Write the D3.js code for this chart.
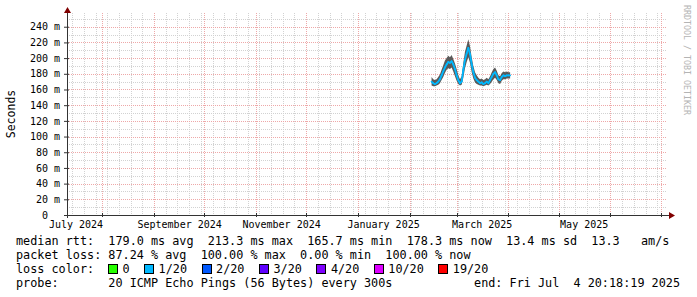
<!DOCTYPE html>
<html>
<head>
<meta charset="utf-8">
<script src="https://cdn.jsdelivr.net/npm/d3@7"></script>
<style>
  html, body { margin: 0; padding: 0; background: #fff; }
  svg { display: block; }
  text { font-family: "DejaVu Sans Mono", monospace; white-space: pre; }
</style>
</head>
<body>
<div id="chart"></div>
<script>
// ── Data ───────────────────────────────────────────────────────────────

const rangeStart = new Date(2024, 6, 10, 22, 0, 0);
const rangeEnd   = new Date(2025, 6, 4, 20, 18, 19);

// one value per day, starting at dataStart
const dataStart = new Date(2025, 1, 14);
const medianRtt = [170,168,167,168,170,173,178,183,188,192,195,194,196,192,186,178,172,168,170,185,
                   198,206,213,205,192,182,175,172,170,168,169,167,168,170,168,172,176,180,182,178,
                   173,172,176,178,177,178,178,178];
const smokeLo   = [165,164,164,165,166,168,172,176,181,185,187,186,188,183,177,171,167,165,166,175,
                   187,195,201,194,182,174,169,167,166,165,165,164,165,166,165,167,170,173,175,172,
                   168,167,171,173,173,174,174,174];
const smokeHi   = [176,173,172,173,176,179,185,191,197,200,203,201,204,199,193,186,178,173,177,194,
                   208,216,224,215,201,190,182,178,175,173,174,172,173,175,173,177,182,186,188,184,
                   178,177,181,183,182,183,182,182];
const lostPings = [1,1,1,1,1,1,1,1,1,1,1,1,1,1,1,1,1,1,1,1,
                   1,1,1,1,1,1,1,1,1,1,1,1,1,1,1,1,1,1,1,1,
                   1,1,1,1,1,1,1,1];

const yTicks = [0, 20, 40, 60, 80, 100, 120, 140, 160, 180, 200, 220, 240];

const lossLevels = [0, 1, 2, 3, 4, 10, 19];
const lossLabels = ["0", "1/20", "2/20", "3/20", "4/20", "10/20", "19/20"];
const lossColors = ["#26ff00", "#00b8ff", "#0059ff", "#5e00ff", "#7e00ff", "#dd00ff", "#ff0000"];

const rttStats  = [["179.0 ms", "avg"], ["213.3 ms", "max"], ["165.7 ms", "min"], ["178.3 ms", "now"], ["13.4 ms", "sd"]];
const amsValue  = "13.3";
const lossStats = [["87.24 %", "avg"], ["100.00 %", "max"], ["0.00 %", "min"], ["100.00 %", "now"]];
const probeText = "20 ICMP Echo Pings (56 Bytes) every 300s";
const endText   = "end: Fri Jul  4 20:18:19 2025";

// ── Setup ──────────────────────────────────────────────────────────────

const W = 697, H = 297;
const plot = { left: 67, right: 667, top: 13, bottom: 215 };

const svg = d3.select("#chart").append("svg").attr("width", W).attr("height", H);
svg.append("rect").attr("width", W).attr("height", H).attr("fill", "#fff");

const x = d3.scaleTime().domain([rangeStart, rangeEnd]).range([plot.left, plot.right]);
const y = d3.scaleLinear().domain([0, 257.5]).range([plot.bottom, plot.top]);

const px = v => Math.round(v) + 0.5;

// ── Grid ───────────────────────────────────────────────────────────────

const gridG = svg.append("g").attr("shape-rendering", "crispEdges");
const minorY = d3.range(10, 251, 10).filter(v => v % 20 !== 0);
const majorY = d3.range(20, 251, 20);
const weeks  = d3.timeSunday.range(rangeStart, rangeEnd);
const months = d3.timeMonth.range(rangeStart, rangeEnd);

function hLines(vals, color) {
  gridG.append("g").selectAll("line").data(vals).join("line")
    .attr("x1", plot.left).attr("x2", plot.right)
    .attr("y1", v => px(y(v))).attr("y2", v => px(y(v)))
    .attr("stroke", color).attr("stroke-dasharray", "1,1");
}
function vLines(vals, color) {
  gridG.append("g").selectAll("line").data(vals).join("line")
    .attr("y1", plot.top).attr("y2", plot.bottom)
    .attr("x1", d => px(x(d))).attr("x2", d => px(x(d)))
    .attr("stroke", color).attr("stroke-dasharray", "1,1");
}
hLines(minorY, "#d2d2d2");
vLines(weeks, "#d2d2d2");
hLines(majorY, "#eea8a8");
vLines(months, "#eea8a8");

// ── Smoke + median ─────────────────────────────────────────────────────

const days = medianRtt.map((_, i) => d3.timeDay.offset(dataStart, i));

svg.append("path")
  .datum(days)
  .attr("fill", "#5a5a5a")
  .attr("d", d3.area().x(d => x(d)).y0((d, i) => y(smokeLo[i])).y1((d, i) => y(smokeHi[i])));

const lossColor = d3.scaleThreshold().domain(lossLevels.slice(1)).range(lossColors);
const segs = d3.pairs(days.map((d, i) => ({ d, v: medianRtt[i], l: lostPings[i] })));
svg.append("g").selectAll("line").data(segs).join("line")
  .attr("x1", s => x(s[0].d)).attr("y1", s => y(s[0].v))
  .attr("x2", s => x(s[1].d)).attr("y2", s => y(s[1].v))
  .attr("stroke", s => lossColor(s[1].l)).attr("stroke-width", 1.8).attr("stroke-linecap", "round");

// ── Axes ───────────────────────────────────────────────────────────────

const axisCol = "#333";
const arrowCol = "#800000";

const yAxis = svg.append("g")
  .attr("transform", `translate(${plot.left},0)`)
  .call(d3.axisLeft(y).tickValues(yTicks).tickSize(3).tickPadding(4)
    .tickFormat(v => v === 0 ? "0" : `${v} m`));
yAxis.select(".domain").remove();
yAxis.selectAll(".tick line").attr("stroke", axisCol).attr("x2", -3).attr("x1", 2);
yAxis.selectAll("text").attr("font-family", "DejaVu Sans Mono").attr("font-size", 10).attr("fill", "#000")
  .attr("dx", v => v === 0 ? -12 : 0);

const labelMonths = d3.timeMonth.every(2).range(d3.timeMonth.floor(rangeStart), rangeEnd)
  .map(m => d3.timeDay.offset(m, 15)).filter(d => d <= rangeEnd);
const xAxis = svg.append("g")
  .attr("transform", `translate(0,${plot.bottom})`)
  .call(d3.axisBottom(x).tickValues(labelMonths).tickSize(0).tickPadding(6)
    .tickFormat(d3.timeFormat("%B %Y")));
xAxis.select(".domain").remove();
xAxis.selectAll("text").attr("font-family", "DejaVu Sans Mono").attr("font-size", 10).attr("fill", "#000");

svg.append("g").selectAll("line").data(months).join("line")
  .attr("x1", d => px(x(d))).attr("x2", d => px(x(d)))
  .attr("y1", plot.bottom - 2).attr("y2", plot.bottom + 2)
  .attr("stroke", axisCol).attr("shape-rendering", "crispEdges");

svg.append("line").attr("x1", plot.left + 0.5).attr("x2", plot.left + 0.5)
  .attr("y1", plot.bottom + 3).attr("y2", 10).attr("stroke", axisCol).attr("shape-rendering", "crispEdges");
svg.append("line").attr("x1", plot.left - 3).attr("x2", plot.right + 5)
  .attr("y1", plot.bottom + 0.5).attr("y2", plot.bottom + 0.5).attr("stroke", axisCol).attr("shape-rendering", "crispEdges");
svg.append("path").attr("d", `M${plot.left - 3},${13}L${plot.left + 0.5},${7}L${plot.left + 4},${13}Z`).attr("fill", arrowCol);
svg.append("path").attr("d", `M${plot.right + 2},${plot.bottom - 3}L${plot.right + 8},${plot.bottom + 0.5}L${plot.right + 2},${plot.bottom + 4}Z`).attr("fill", arrowCol);

// ── Titles ─────────────────────────────────────────────────────────────

svg.append("text").attr("transform", "translate(15,114) rotate(-90)")
  .attr("text-anchor", "middle").attr("font-size", 11.5).attr("fill", "#000").text("Seconds");

svg.append("text").attr("transform", "translate(683.5,5) rotate(90)")
  .attr("font-size", 8.3).attr("fill", "#b4b4b4").text("RRDTOOL / TOBI OETIKER");

// ── Legend ─────────────────────────────────────────────────────────────

const LF = 11.8;
const legendG = svg.append("g").attr("font-size", LF).attr("fill", "#000");

legendG.append("text").attr("x", 16).attr("y", 245)
  .text("median rtt:  " + rttStats.map(s => s.join(" ")).join("  ") + "  " + amsValue + "   am/s");
legendG.append("text").attr("x", 16).attr("y", 259)
  .text("packet loss: " + lossStats.map(s => s.join(" ")).join("  "));
legendG.append("text").attr("x", 16).attr("y", 273).text("loss color:");

let bx = 108.5;
lossLabels.forEach((lab, i) => {
  legendG.append("rect").attr("x", bx).attr("y", 264.5).attr("width", 9).attr("height", 9)
    .attr("fill", lossColors[i]).attr("stroke", "#000").attr("shape-rendering", "crispEdges");
  const t = legendG.append("text").attr("x", bx + 14).attr("y", 273).text(lab);
  bx = bx + 14 + t.node().getComputedTextLength() + 15;
});

legendG.append("text").attr("x", 16).attr("y", 287).text("probe:       " + probeText);
legendG.append("text").attr("x", 680).attr("y", 287).attr("text-anchor", "end").text(endText);
</script>
</body>
</html>
